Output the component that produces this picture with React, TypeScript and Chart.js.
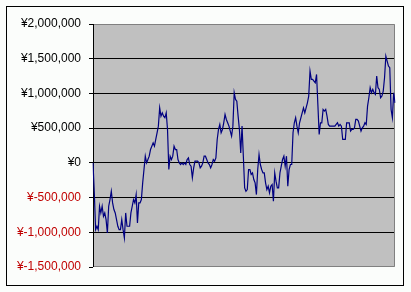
import React, { useEffect, useRef } from "react";
import { Chart, registerables } from "chart.js";

Chart.register(...registerables);

// Cumulative balance (yen)
const balance: number[] = [
  0, -433000, -962000, -913000, -962000, -625000, -721000, -625000, -769000, -721000,
  -817000, -1010000, -625000, -529000, -409000, -577000, -673000, -721000, -817000, -913000,
  -962000, -962000, -817000, -962000, -1082000, -721000, -913000, -913000, -913000, -721000,
  -625000, -529000, -577000, -457000, -865000, -577000, -577000, -529000, -288000, -96000,
  96000, 0, 48000, 96000, 192000, 240000, 288000, 240000, 337000, 433000,
  529000, 793000, 673000, 721000, 673000, 649000, 721000, 481000, -96000, 96000,
  48000, 96000, 240000, 192000, 192000, 48000, 0, -24000, 0, -24000,
  0, -24000, 48000, 72000, -24000, -48000, -216000, -72000, 24000, 24000,
  24000, 0, -72000, -48000, 0, 96000, 96000, 48000, 0, -24000,
  -72000, -24000, 48000, 24000, 72000, 337000, 481000, 553000, 433000, 481000,
  577000, 697000, 625000, 577000, 529000, 457000, 385000, 529000, 1010000, 913000,
  889000, 673000, 481000, 144000, 529000, 96000, -361000, -409000, -385000, -96000,
  -96000, -168000, -144000, -240000, -288000, -457000, -96000, 120000, -24000, -96000,
  -144000, -144000, -288000, -385000, -337000, -433000, -337000, -312000, -553000, -144000,
  -264000, -361000, -361000, -144000, -48000, 48000, 96000, -48000, 96000, -337000,
  -96000, -24000, -24000, 433000, 577000, 649000, 529000, 433000, 577000, 649000,
  721000, 793000, 721000, 793000, 865000, 962000, 1322000, 1202000, 1202000, 1178000,
  1154000, 1274000, 841000, 409000, 577000, 577000, 769000, 745000, 769000, 673000,
  553000, 529000, 529000, 529000, 529000, 529000, 553000, 577000, 529000, 553000,
  529000, 337000, 337000, 337000, 577000, 577000, 577000, 457000, 481000, 481000,
  505000, 625000, 625000, 601000, 529000, 457000, 505000, 529000, 577000, 553000,
  817000, 938000, 1082000, 1010000, 1058000, 1010000, 986000, 1250000, 1082000, 1058000,
  938000, 962000, 1034000, 1226000, 1538000, 1466000, 1394000, 1370000, 769000, 649000,
  1010000, 865000,
];

const days: string[] = balance.map((_, i) => String(i + 1));

const yMin = -1500000;
const yMax = 2000000;
const yStep = 500000;

function formatYen(v: number): string {
  const abs = Math.abs(v).toLocaleString("en-US");
  return v < 0 ? "¥-" + abs : "¥" + abs;
}

const frame = {
  id: "frame",
  beforeDraw(chart: any) {
    const { ctx, chartArea } = chart;
    ctx.save();
    ctx.fillStyle = "#fbfdfb";
    ctx.fillRect(0, 0, chart.width, chart.height);
    ctx.strokeStyle = "#000000";
    ctx.lineWidth = 1;
    ctx.strokeRect(6.5, 6.5, 397, 279);
    ctx.fillStyle = "#c0c0c0";
    ctx.fillRect(chartArea.left, chartArea.top, chartArea.right - chartArea.left, chartArea.bottom - chartArea.top);
    ctx.restore();
  },
  beforeDatasetsDraw(chart: any) {
    const { ctx, chartArea } = chart;
    ctx.save();
    ctx.strokeStyle = "#808080";
    ctx.lineWidth = 1;
    ctx.beginPath();
    ctx.moveTo(chartArea.left, Math.round(chartArea.top) + 0.5);
    ctx.lineTo(Math.round(chartArea.right) - 0.5, Math.round(chartArea.top) + 0.5);
    ctx.lineTo(Math.round(chartArea.right) - 0.5, Math.round(chartArea.bottom) - 0.5);
    ctx.lineTo(chartArea.left, Math.round(chartArea.bottom) - 0.5);
    ctx.stroke();
    ctx.strokeStyle = "#000000";
    ctx.beginPath();
    ctx.moveTo(Math.round(chartArea.left) + 0.5, chartArea.top);
    ctx.lineTo(Math.round(chartArea.left) + 0.5, chartArea.bottom);
    ctx.stroke();
    ctx.restore();
  },
};

export default function App() {
  const ref = useRef<HTMLCanvasElement | null>(null);

  useEffect(() => {
    if (!ref.current) return;
    const chart = new Chart(ref.current, {
      type: "line",
      data: {
        labels: days,
        datasets: [
          {
            data: balance,
            borderColor: "#000080",
            borderWidth: 1.2,
            pointRadius: 0,
            tension: 0,
            fill: false,
          },
        ],
      },
      options: {
        responsive: false,
        animation: false,
        devicePixelRatio: 1,
        layout: { padding: { top: 24, right: 16, bottom: 25, left: 0 } },
        plugins: { legend: { display: false }, tooltip: { enabled: false } },
        scales: {
          x: {
            display: false,
            offset: false,
          },
          y: {
            min: yMin,
            max: yMax,
            afterFit(scale: any) {
              scale.width = 93;
            },
            border: { display: false },
            grid: {
              color: (c: any) =>
                c.tick && (c.tick.value === yMin || c.tick.value === yMax) ? "rgba(0,0,0,0)" : "#000000",
              tickColor: "#000000",
              tickLength: 4,
              lineWidth: 1,
            },
            ticks: {
              stepSize: yStep,
              padding: 8,
              color: (c: any) => (c.tick && c.tick.value < 0 ? "#c00000" : "#000000"),
              font: { family: "'Liberation Sans', Arial, sans-serif", size: 12 },
              callback: (v: any) => formatYen(Number(v)),
            },
          },
        },
      },
      plugins: [frame],
    });
    return () => chart.destroy();
  }, []);

  return (
    <div style={{ position: "fixed", left: 0, top: 0, width: 411, height: 292, background: "#ffffff" }}>
      <canvas ref={ref} width={411} height={292} style={{ display: "block" }} />
    </div>
  );
}
